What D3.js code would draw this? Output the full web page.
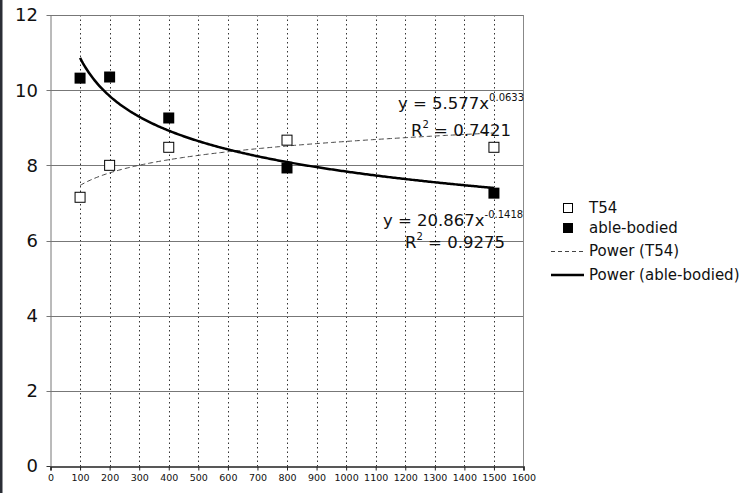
<!DOCTYPE html>
<html><head><meta charset="utf-8">
<script src="https://cdn.jsdelivr.net/npm/d3@7"></script>
<style>
html,body{margin:0;padding:0;background:#fff;}
svg{display:block;font-family:"DejaVu Sans",Verdana,sans-serif;}
</style></head>
<body><svg id="c" width="751" height="493"></svg>
<script>
const distances = [100, 200, 400, 800, 1500];
const t54 = [7.15, 8.0, 8.48, 8.67, 8.48];
const ableBodied = [10.32, 10.35, 9.26, 7.93, 7.26];
const xTicks = d3.range(0, 1700, 100);
const yTicks = [0, 2, 4, 6, 8, 10, 12];
const fitCoefT54 = [5.577, 0.0633];
const fitCoefAble = [20.867, -0.1418];
const legendLabels = ["T54", "able-bodied", "Power (T54)", "Power (able-bodied)"];

const svg = d3.select("#c");
svg.append("rect").attr("x",0).attr("y",0).attr("width",2.5).attr("height",493).attr("fill","#2b2e36");

const L=50.5, R=523.5, T=15, B=466;
const x = d3.scaleLinear().domain([0,1600]).range([L,R]);
const y = d3.scaleLinear().domain([0,12]).range([B,T]);

svg.append("g").selectAll("line").data(xTicks.filter(d=>d>0&&d<1600)).join("line")
  .attr("x1",d=>Math.round(x(d))+0.5).attr("x2",d=>Math.round(x(d))+0.5)
  .attr("y1",T).attr("y2",B).attr("stroke","#333").attr("stroke-width",1).attr("stroke-dasharray","1.5,3");
svg.append("g").selectAll("line").data(yTicks.filter(d=>d>0)).join("line")
  .attr("x1",L-4).attr("x2",R).attr("y1",d=>Math.round(y(d))+0.5).attr("y2",d=>Math.round(y(d))+0.5)
  .attr("stroke","#777").attr("stroke-width",1);
svg.append("line").attr("x1",R).attr("x2",R).attr("y1",T).attr("y2",B).attr("stroke","#888");
svg.append("line").attr("x1",L+0.5).attr("x2",L+0.5).attr("y1",T).attr("y2",B).attr("stroke","#777");
svg.append("line").attr("x1",L-4).attr("x2",L).attr("y1",B+0.5).attr("y2",B+0.5).attr("stroke","#333");

const xa = svg.append("g").attr("transform",`translate(0,${B+0.5})`)
  .call(d3.axisBottom(x).tickValues(xTicks).tickSize(4).tickPadding(4).tickFormat(d3.format("d")));
xa.select(".domain").attr("stroke","#222").attr("stroke-width",1.5);
xa.selectAll(".tick line").attr("stroke","#222");
xa.selectAll("text").attr("font-size",9.5).attr("fill","#111").attr("font-family","DejaVu Sans, Verdana, sans-serif");

svg.append("g").selectAll("text").data(yTicks).join("text")
  .attr("x",38).attr("y",d=>y(d)).attr("dy","0.36em").attr("text-anchor","end")
  .attr("font-size",18).attr("fill","#111").text(d=>d);

function powerCurve(c){
  const xs = d3.range(distances[0], distances[distances.length-1]+1, 5);
  return d3.line().x(d=>x(d)).y(d=>y(c[0]*Math.pow(d,c[1])))(xs);
}
svg.append("path").attr("d",powerCurve(fitCoefT54)).attr("fill","none")
  .attr("stroke","#444").attr("stroke-width",1).attr("stroke-dasharray","5,3");
svg.append("path").attr("d",powerCurve(fitCoefAble)).attr("fill","none")
  .attr("stroke","#000").attr("stroke-width",2.5);

svg.append("g").selectAll("rect").data(distances).join("rect")
  .attr("x",(d)=>x(d)-5).attr("y",(d,i)=>y(t54[i])-5).attr("width",10).attr("height",10)
  .attr("fill","#fff").attr("stroke","#000").attr("stroke-width",1);
svg.append("g").selectAll("rect").data(distances).join("rect")
  .attr("x",(d)=>x(d)-5.5).attr("y",(d,i)=>y(ableBodied[i])-5.5).attr("width",11).attr("height",11)
  .attr("fill","#000");

function eq(xp, yp, base, exp, rest){
  const t = svg.append("text").attr("x",xp).attr("y",yp).attr("font-size",16.5).attr("fill","#111");
  t.append("tspan").text(base);
  t.append("tspan").attr("dy",-8).attr("font-size",10).text(exp);
  if(rest) t.append("tspan").attr("dy",8).attr("font-size",16.5).text(rest);
}
eq(398,109,"y = "+fitCoefT54[0]+"x","0.0633");
eq(411,136,"R","2"," = 0.7421");
eq(383,226,"y = "+fitCoefAble[0]+"x","-0.1418");
eq(405,248,"R","2"," = 0.9275");

const lg = svg.append("g");
const ly = [208, 228, 251, 275];
lg.append("rect").attr("x",563.5).attr("y",ly[0]-4.5).attr("width",9).attr("height",9).attr("fill","#fff").attr("stroke","#000");
lg.append("rect").attr("x",563).attr("y",ly[1]-5).attr("width",10).attr("height",10).attr("fill","#000");
lg.append("line").attr("x1",551).attr("x2",583).attr("y1",ly[2]+0.5).attr("y2",ly[2]+0.5).attr("stroke","#444").attr("stroke-dasharray","4,3");
lg.append("line").attr("x1",551).attr("x2",584).attr("y1",ly[3]).attr("y2",ly[3]).attr("stroke","#000").attr("stroke-width",2.5);
lg.selectAll("text").data(legendLabels).join("text")
  .attr("x",589).attr("y",(d,i)=>ly[i]).attr("dy","0.36em").attr("font-size",15).attr("fill","#111").text(d=>d);
</script></body></html>
